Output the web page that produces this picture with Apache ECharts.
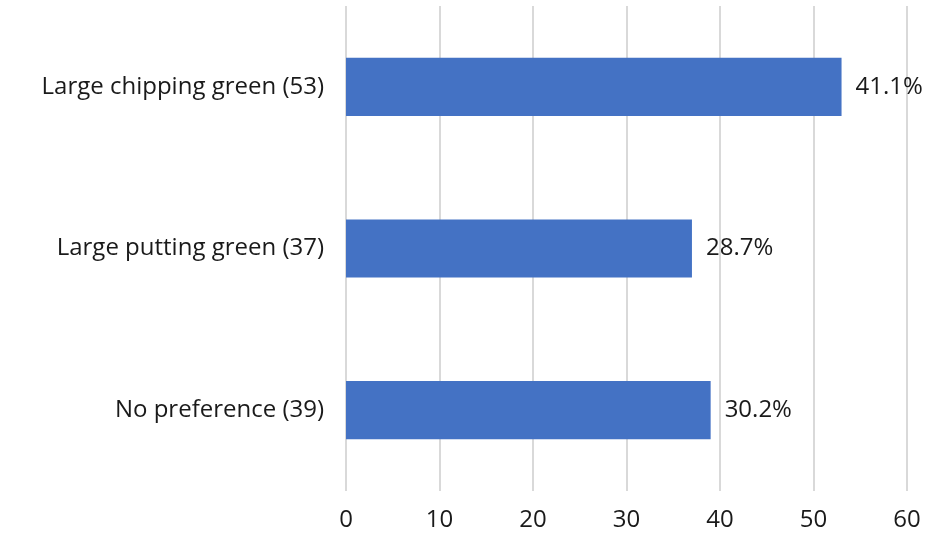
<!DOCTYPE html>
<html><head><meta charset="utf-8">
<script src="https://cdn.jsdelivr.net/npm/echarts@6/dist/echarts.min.js"></script>
<style>html,body{margin:0;padding:0;background:#fff}#c{width:925px;height:535px}</style>
</head><body><div id="c"></div>
<script>
const categories = ["Large chipping green (53)", "Large putting green (37)", "No preference (39)"];
const counts = [53, 37, 39];
const percentLabels = ["41.1%", "28.7%", "30.2%"];
const xTicks = [0, 10, 20, 30, 40, 50, 60];

const chart = echarts.init(document.getElementById('c'), null, {renderer: 'canvas'});
const font = '"Open Sans", sans-serif';
const txt = {color: '#1a1a1a', fontSize: 24, fontFamily: font, fontWeight: 'normal'};
chart.setOption({
  animation: false,
  grid: {left: 346, right: 18, top: 6, bottom: 44, containLabel: false},
  xAxis: {
    type: 'value', min: xTicks[0], max: xTicks[xTicks.length - 1], interval: 10,
    axisLine: {show: false}, axisTick: {show: false},
    splitLine: {show: true, lineStyle: {color: '#d9d9d9', width: 2}},
    axisLabel: Object.assign({margin: 17}, txt)
  },
  yAxis: {
    type: 'category', data: categories, inverse: true,
    axisLine: {show: false}, axisTick: {show: false},
    axisLabel: Object.assign({margin: 22}, txt)
  },
  series: [{
    type: 'bar', data: counts, barWidth: '36%',
    itemStyle: {color: '#4472C4'},
    label: Object.assign({
      show: true, position: 'right', distance: 14,
      formatter: p => percentLabels[p.dataIndex]
    }, txt)
  }]
});
</script></body></html>
